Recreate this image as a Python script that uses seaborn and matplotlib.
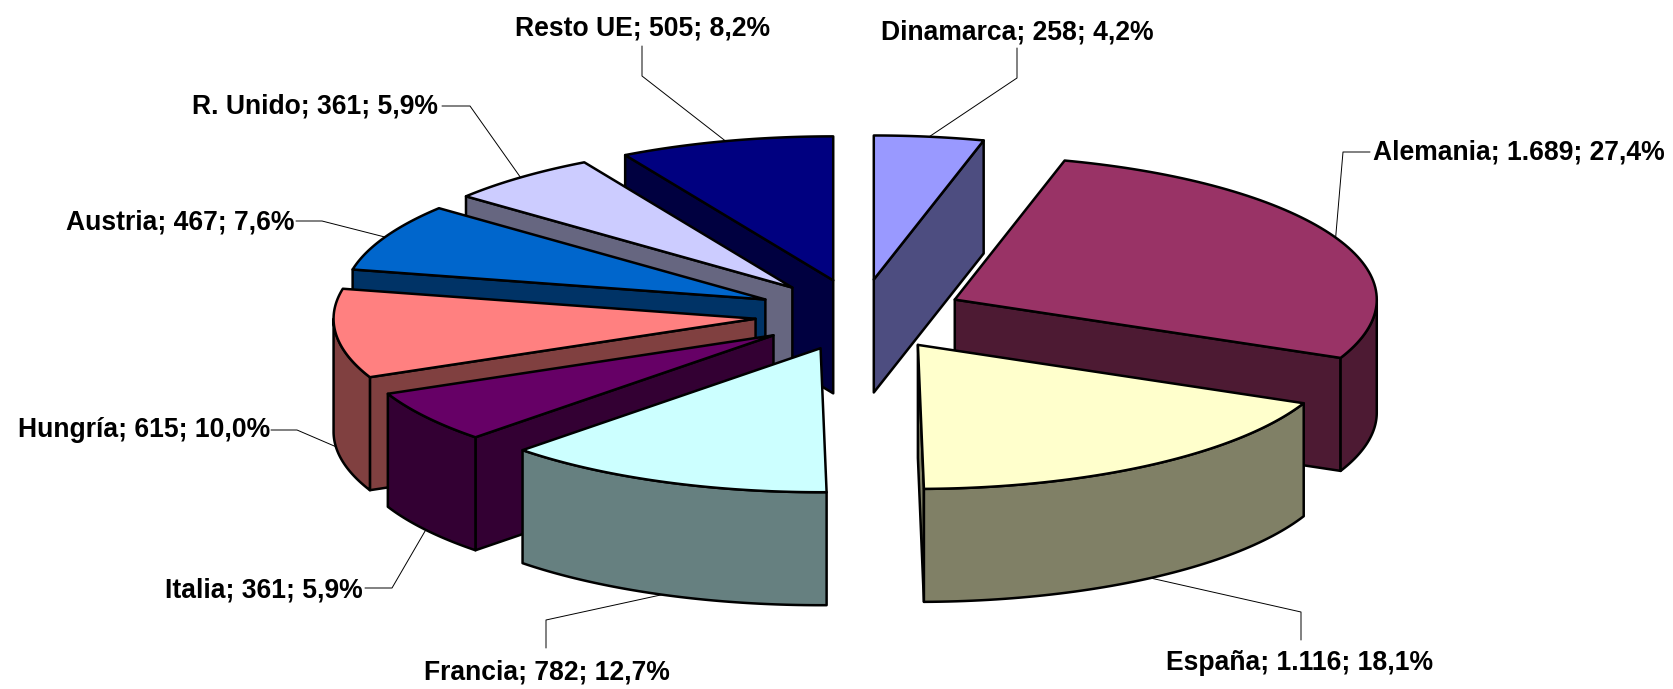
import numpy as np
import matplotlib
matplotlib.use("Agg")
import matplotlib.pyplot as plt
from matplotlib.colors import to_rgb
from matplotlib.patches import Polygon
import seaborn as sns

# Datos del grafico
paises = ["Dinamarca", "Alemania", "España", "Francia", "Italia",
          "Hungría", "Austria", "R. Unido", "Resto UE"]
valores = [258, 1689, 1116, 782, 361, 615, 467, 361, 505]
colores = ["#9999FF", "#993366", "#FFFFCC", "#CCFFFF", "#660066",
           "#FF8080", "#0066CC", "#CCCCFF", "#000080"]

# Layout de etiquetas en pixeles (ancla del texto y codo de la guia)
etiqueta_xy = [(881, 33), (1373, 153), (1166, 663), (424, 673), (165, 590),
               (18, 430), (66, 222), (192, 107), (515, 29)]
codo_xy = [(1017, 78), (1343, 152), (1301, 612), (546, 620), (392, 588),
           (297, 430), (322, 221), (470, 106), (642, 76)]
guia_ini = [(1017, 48), (1370, 152), (1301, 640), (546, 648), (365, 588),
            (271, 430), (296, 221), (442, 106), (642, 46)]

# Geometria de la tarta
CX, CY = 860, 315
RX, RY = 422, 144
FONDO = 113
EXPLOSION = 105

sns.set_theme(style="white")
plt.rcParams["font.family"] = ["Liberation Sans", "DejaVu Sans"]

fig = plt.figure(figsize=(16.74, 6.89), dpi=100)
ax = fig.add_axes([0, 0, 1, 1])
ax.set_xlim(0, 1674)
ax.set_ylim(689, 0)
ax.axis("off")

total = sum(valores)
fin = np.cumsum(valores) / total * 360
ini = np.concatenate([[0], fin[:-1]])
medio = (ini + fin) / 2


def punto(ang, x0=0, y0=0):
    a = np.radians(ang)
    return x0 + RX * np.sin(a), y0 - RY * np.cos(a)


def cara(pts):
    pts = np.array(pts)
    return np.vstack([pts, pts[::-1] + [0, FONDO]])


# de atras hacia delante
orden = np.argsort(-np.cos(np.radians(medio)))
for n, i in enumerate(orden):
    a = np.radians(medio[i])
    x0 = CX + EXPLOSION * np.sin(a)
    y0 = CY - EXPLOSION * RY / RX * np.cos(a)
    col = colores[i]
    oscuro = tuple(c / 2 for c in to_rgb(col))
    estilo = dict(fc=oscuro, ec="black", lw=1.8, joinstyle="round", zorder=n + 1)

    # caras radiales visibles
    if 0 < fin[i] < 180:
        ax.add_patch(Polygon(cara([(x0, y0), punto(fin[i], x0, y0)]), **estilo))
    if 180 < ini[i] < 360:
        ax.add_patch(Polygon(cara([(x0, y0), punto(ini[i], x0, y0)]), **estilo))

    # borde exterior visible
    desde, hasta = max(ini[i], 90), min(fin[i], 270)
    if desde < hasta:
        arco = [punto(t, x0, y0) for t in np.linspace(desde, hasta, 60)]
        ax.add_patch(Polygon(cara(arco), **estilo))

    # cara superior
    arco = [punto(t, x0, y0) for t in np.linspace(ini[i], fin[i], 80)]
    ax.add_patch(Polygon([(x0, y0)] + arco, fc=col, ec="black", lw=1.8,
                         joinstyle="round", zorder=n + 1))

    # guia y etiqueta
    px, py = punto(medio[i], x0, y0)
    if np.cos(a) < 0:
        py += FONDO
    ax.plot([guia_ini[i][0], codo_xy[i][0], px], [guia_ini[i][1], codo_xy[i][1], py],
            color="black", lw=0.7, zorder=0)
    miles = f"{valores[i]:,}".replace(",", ".")
    pct = f"{valores[i] / total * 100:.1f}".replace(".", ",")
    ax.text(*etiqueta_xy[i], f"{paises[i]}; {miles}; {pct}%", ha="left", va="center",
            fontsize=19.1, fontweight="bold", color="black", zorder=50)

fig.savefig("out.png", dpi=100, facecolor="white")
